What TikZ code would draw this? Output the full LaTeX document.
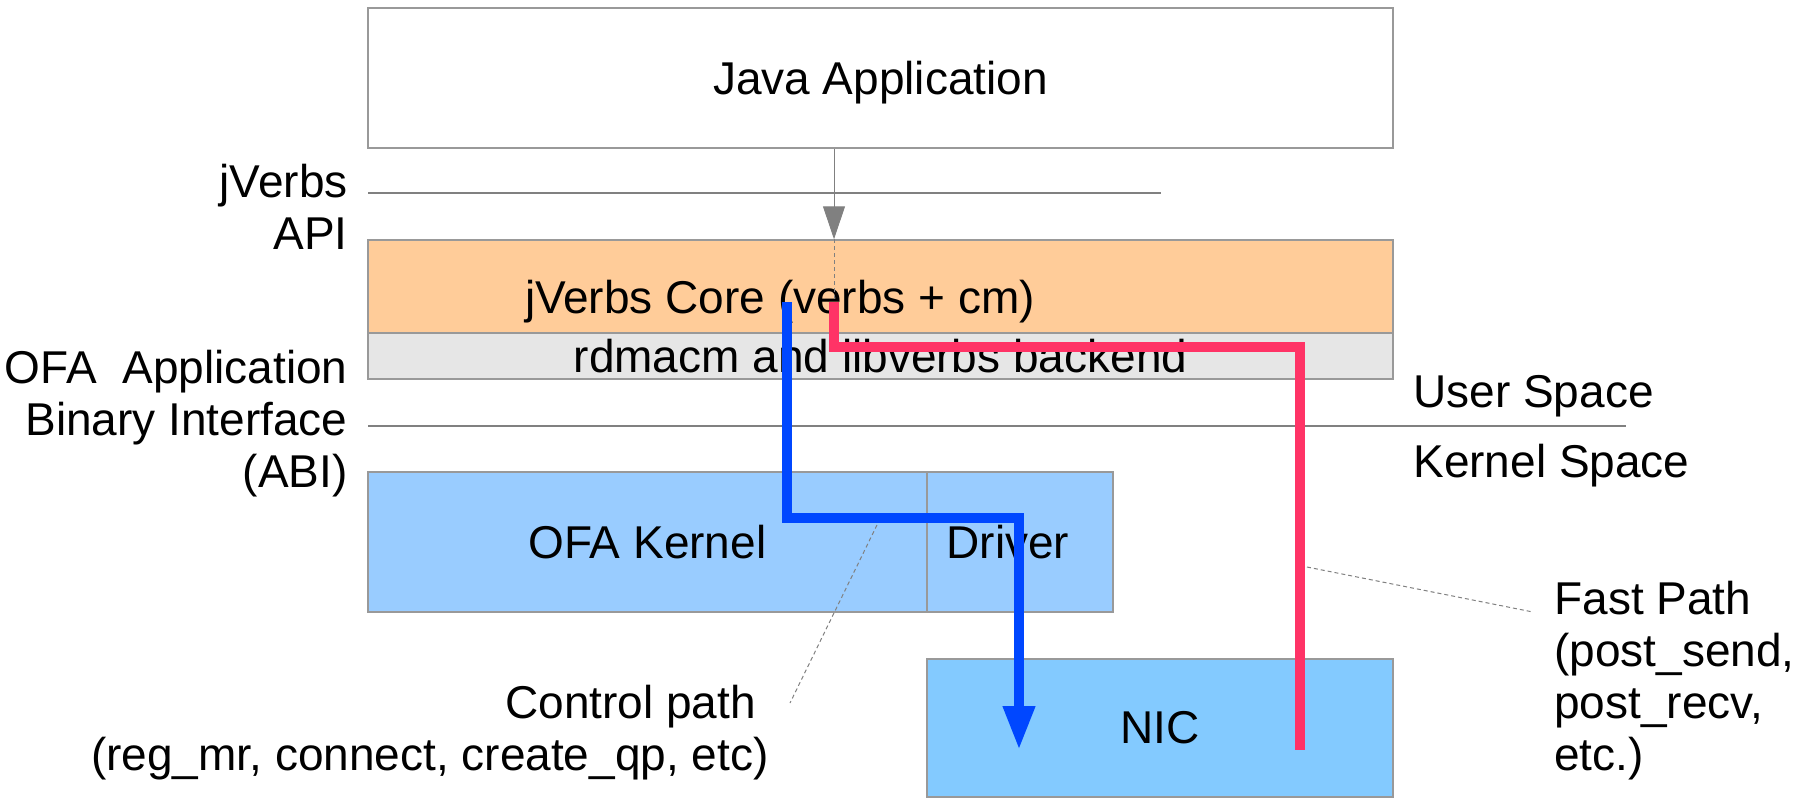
\documentclass[tikz,border=0pt]{standalone}
\usepackage{fontspec}
\setmainfont{Liberation Sans}
\usetikzlibrary{arrows.meta}
\definecolor{boxline}{HTML}{999999}
\definecolor{corefill}{HTML}{FFCC99}
\definecolor{backfill}{HTML}{E6E6E6}
\definecolor{kernfill}{HTML}{99CCFF}
\definecolor{nicfill}{HTML}{83CAFF}
\definecolor{fastcol}{HTML}{FF3366}
\definecolor{ctrlcol}{HTML}{0047FF}
\definecolor{thingray}{HTML}{808080}
\tikzset{
  box/.style={draw=boxline, line width=0.75pt, inner sep=0pt, anchor=center},
  lbl/.style={inner sep=0pt, align=#1},
  lbl/.default=left,
  sepline/.style={draw=thingray, line width=0.6pt},
  leader/.style={draw=thingray, line width=0.5pt, dash pattern=on 2pt off 1.5pt},
  fastpath/.style={draw=fastcol, line width=5pt, line join=miter},
  ctrlpath/.style={draw=ctrlcol, line width=5pt, line join=miter, -{Triangle[length=22pt,width=15pt]}},
  apiarrow/.style={draw=thingray, line width=0.5pt, -{Triangle[length=16.5pt,width=11pt]}}
}
\begin{document}
\begin{tikzpicture}[x=0.5pt,y=-0.5pt,font=\fontsize{23}{26}\selectfont]
\useasboundingbox (0,0) rectangle (1812,799);
% boxes
\node[box, fill=white, minimum width=512.5pt, minimum height=70pt, text depth=0pt] (java) at (880.5,78) {Java Application};
\node[box, fill=corefill, minimum width=512.5pt, minimum height=46.5pt] (core) at (880.5,286.5) {};
\node[box, fill=backfill, minimum width=512.5pt, minimum height=23pt] (backend) at (880.5,356) {rdmacm and libverbs backend};
\node[anchor=base, inner sep=0pt] (coretext) at (780,313) {jVerbs Core (verbs + cm)};
\node[box, fill=kernfill, minimum width=279.5pt, minimum height=70pt] (kernel) at (647.5,542) {OFA Kernel};
\node[box, fill=kernfill, minimum width=93pt, minimum height=70pt] (driver) at (1020,542) {Driver\hspace{12pt}\null};
\node[box, fill=nicfill, minimum width=233pt, minimum height=69pt] (nic) at (1160,728) {NIC};
% separator lines
\coordinate (apiL) at (368,193);
\coordinate (apiR) at (1161,193);
\draw[sepline] (apiL) -- (apiR);
\coordinate (ukL) at (368,426);
\coordinate (ukR) at (1626,426);
\draw[sepline] (ukL) -- (ukR);
% labels (base anchor = last line's baseline)
\node[lbl=right, anchor=base east] (apilbl) at (348,249) {jVerbs\\API};
\node[lbl=right, anchor=base east] (abilbl) at (348,487) {OFA\ \ Application\\Binary Interface\\(ABI)};
\node[lbl, anchor=base west] (userlbl) at (1413,407) {User Space};
\node[lbl, anchor=base west] (kernlbl) at (1413,477) {Kernel Space};
\node[lbl, anchor=base west] (fastlbl) at (1554,770) {Fast Path\\(post\_send,\\post\_recv,\\etc.)};
\node[lbl=right, anchor=base east] (ctrllbl) at (769,770) {Control path\ \null\\(reg\_mr, connect, create\_qp, etc)};
% API arrow
\coordinate (ax) at (834,0);
\draw[apiarrow] (java.south -| ax) -- (core.north -| ax);
\coordinate (ad) at (834,302);
\draw[draw=thingray, line width=0.4pt, dash pattern=on 2pt off 1.5pt] (core.north -| ax) -- (ad);
% leaders
\coordinate (cl0) at (877,525);
\coordinate (cl1) at (790,703);
\draw[leader] (cl0) -- (cl1);
\coordinate (fl0) at (1307,567);
\coordinate (fl1) at (1533,612);
\draw[leader] (fl0) -- (fl1);
% fast path
\coordinate (f0) at (834,302);
\coordinate (f1) at (1300,347);
\coordinate (f2) at (1300,750);
\draw[fastpath] (f0) |- (f1) -- (f2);
% control path
\coordinate (b0) at (787,302);
\coordinate (b1) at (1019,518);
\coordinate (b2) at (1019,750);
\draw[ctrlpath] (b0) |- (b1) -- (b2);
\end{tikzpicture}
\end{document}
